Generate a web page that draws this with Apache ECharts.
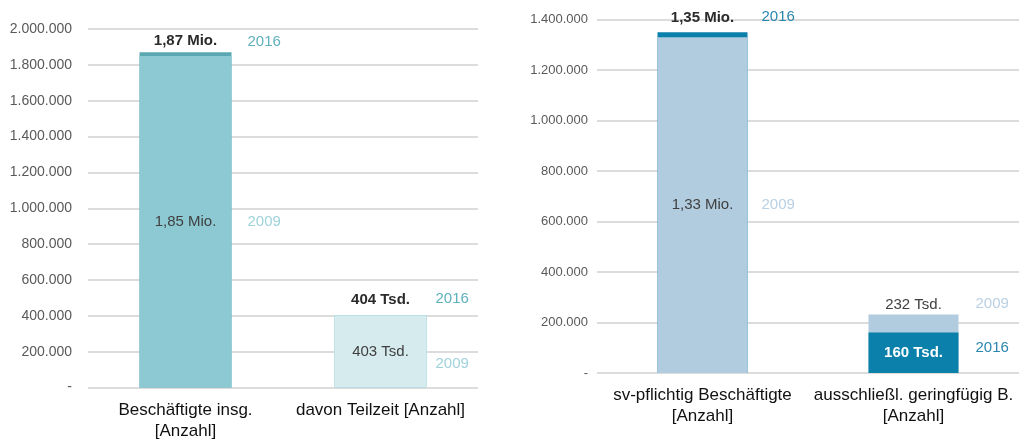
<!DOCTYPE html>
<html>
<head>
<meta charset="utf-8">
<script src="https://cdn.jsdelivr.net/npm/echarts@6/dist/echarts.min.js"></script>
<style>
  html, body { margin: 0; padding: 0; background: #fff; }
  #chart { width: 1019px; height: 443px; }
</style>
</head>
<body>
<div id="chart"></div>
<script>
// Daten
const categoriesLeft = ['Beschäftigte insg.\n[Anzahl]', 'davon Teilzeit [Anzahl]'];
const left2009 = [1850000, 403000];
const left2016 = [1870000, 404000];

const categoriesRight = ['sv-pflichtig Beschäftigte\n[Anzahl]', 'ausschließl. geringfügig B.\n[Anzahl]'];
const right2009 = [1330000, 232000];
const right2016 = [1350000, 160000];

const yLeft = {min: 0, max: 2000000, interval: 200000};
const yRight = {min: 0, max: 1400000, interval: 200000};

// Farben je Jahr (Balkenfarbe je Kategorie)
const palLeft = {
  '2009': {bar: ['#8cc9d2', '#d6ebee'], border: [0, 0], year: '#9fd3db', top: '#404040', inside: '#404040'},
  '2016': {bar: ['#5aa7b1', '#5bbccb'], border: [0, 1], year: '#5fb0bd', top: '#2b2b2b', inside: '#2b2b2b'}
};
const palRight = {
  '2009': {bar: ['#b1cbdf', '#b1cbdf'], border: [0, 0], year: '#b9d0e3', top: '#404040', inside: '#404040'},
  '2016': {bar: ['#0a80ab', '#0a80ab'], border: [0, 0], year: '#2a85b0', top: '#2b2b2b', inside: '#ffffff'}
};

// Beschriftungs-Lage je Kategorie (Abstand Wert oben, Jahr x / y)
const layLeft = [
  {topGap: 4, yearX: 108, backYearY: -10, frontYearY: '50%'},
  {topGap: 8, yearX: 101, backYearY: -16, frontYearY: 49}
];
const layRight = [
  {topGap: 7, yearX: 104, backYearY: -15, frontYearY: '50%'},
  {topGap: 2, yearX: 107, backYearY: -11, frontYearY: 15}
];

const FONT = 'Liberation Sans, Arial';

const fmt = v => v >= 1e6
  ? (v / 1e6).toFixed(2).replace('.', ',') + ' Mio.'
  : Math.round(v / 1000) + ' Tsd.';

const fmtAxis = v => v === 0 ? '-' : String(v).replace(/\B(?=(\d{3})+(?!\d))/g, '.');

function makeSeries(axis, v2009, v2016, pal, lay, barWidth) {
  const back = [], front = [], backYr = [], frontYr = [];
  v2009.forEach((a, i) => {
    const items = [{v: a, y: '2009'}, {v: v2016[i], y: '2016'}].sort((p, q) => q.v - p.v);
    const L = lay[i];
    items.forEach((it, k) => {
      const isBack = k === 0;
      const p = pal[it.y];
      const bar = {
        value: it.v,
        itemStyle: {color: p.bar[i], borderColor: p.bar[i], borderWidth: p.border[i]},
        label: {
          show: true,
          formatter: fmt(it.v),
          position: isBack ? 'top' : 'inside',
          distance: isBack ? L.topGap : 5,
          fontWeight: it.y === '2016' ? 'bold' : 'normal',
          color: isBack ? p.top : p.inside,
          fontSize: 15,
          fontFamily: FONT
        }
      };
      const yr = {
        value: it.v,
        itemStyle: {color: 'rgba(0,0,0,0)'},
        label: {
          show: true,
          formatter: it.y,
          position: [L.yearX, isBack ? L.backYearY : L.frontYearY],
          align: 'left',
          verticalAlign: 'middle',
          color: p.year,
          fontSize: 15,
          fontFamily: FONT
        }
      };
      (isBack ? back : front).push(bar);
      (isBack ? backYr : frontYr).push(yr);
    });
  });
  const base = {type: 'bar', xAxisIndex: axis, yAxisIndex: axis, barWidth: barWidth, barGap: '-100%', silent: true, animation: false};
  return [
    {...base, data: back},
    {...base, data: front},
    {...base, data: backYr},
    {...base, data: frontYr}
  ];
}

function xAxisOf(idx, cats) {
  return {
    type: 'category',
    gridIndex: idx,
    data: cats,
    axisLine: {show: false},
    axisTick: {show: false},
    axisLabel: {
      interval: 0,
      margin: 12,
      fontSize: 17,
      lineHeight: 21,
      color: '#111111',
      fontFamily: FONT
    }
  };
}

function yAxisOf(idx, cfg, fontSize, margin) {
  return {
    type: 'value',
    gridIndex: idx,
    min: cfg.min,
    max: cfg.max,
    interval: cfg.interval,
    axisLine: {show: false},
    axisTick: {show: false},
    splitLine: {lineStyle: {color: '#dcdcdc', width: 2}},
    axisLabel: {
      formatter: fmtAxis,
      margin: margin,
      fontSize: fontSize,
      color: '#595959',
      fontFamily: FONT
    }
  };
}

const myChart = echarts.init(document.getElementById('chart'));

const option = {
  backgroundColor: '#fff',
  animation: false,
  grid: [
    {left: 88, width: 390, top: 29, bottom: 55.5},
    {left: 597, right: 0, top: 19.5, bottom: 70}
  ],
  xAxis: [xAxisOf(0, categoriesLeft), xAxisOf(1, categoriesRight)],
  yAxis: [yAxisOf(0, yLeft, 14, 16), yAxisOf(1, yRight, 13, 9)],
  series: [
    ...makeSeries(0, left2009, left2016, palLeft, layLeft, 92),
    ...makeSeries(1, right2009, right2016, palRight, layRight, 90)
  ]
};

myChart.setOption(option);
</script>
</body>
</html>
